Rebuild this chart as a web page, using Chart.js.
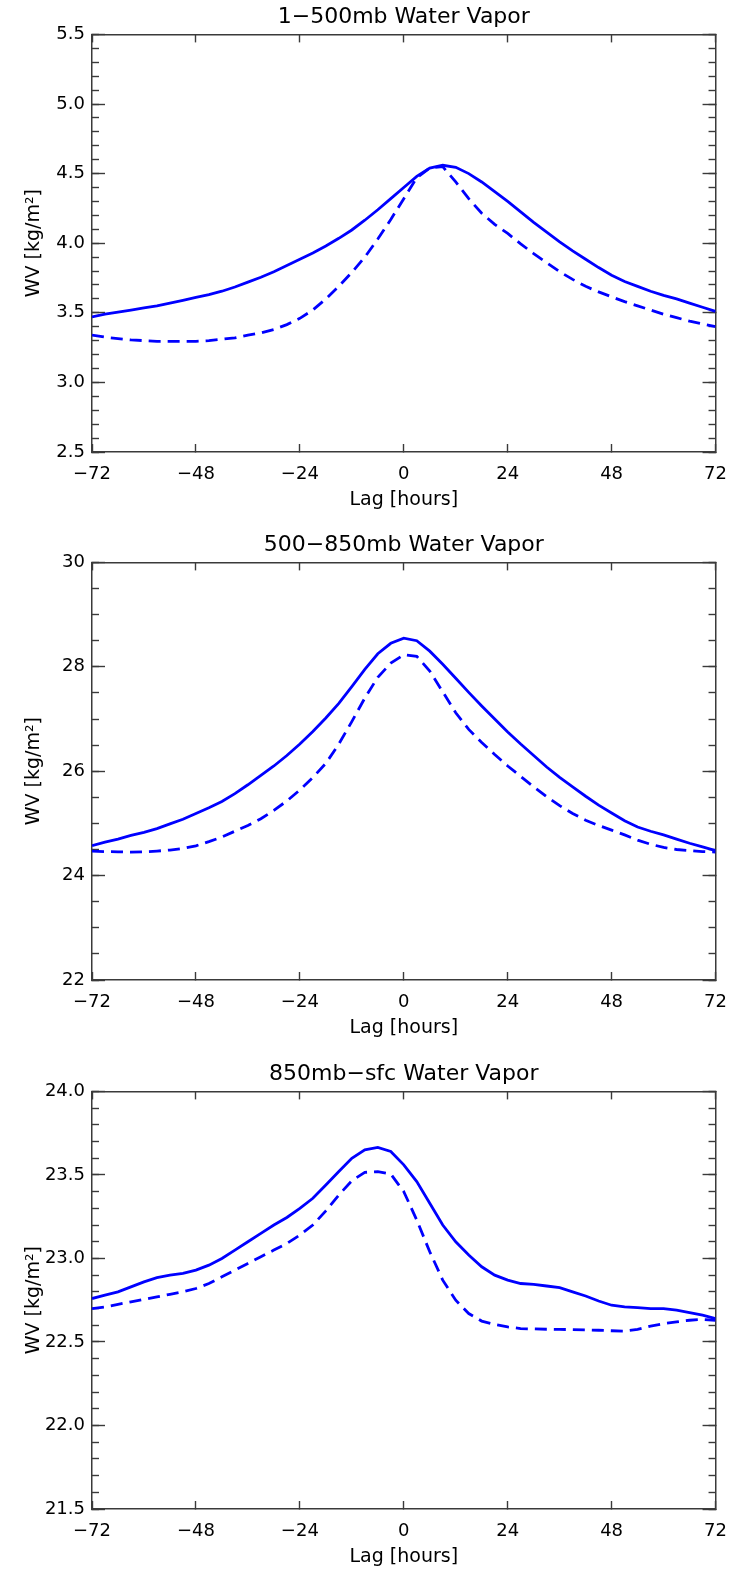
<!DOCTYPE html>
<html>
<head>
<meta charset="utf-8">
<title>Water Vapor</title>
<script src="https://cdn.jsdelivr.net/npm/chart.js@4/dist/chart.umd.min.js"></script>
<style>
  html, body { margin: 0; padding: 0; background: #fff; overflow: hidden; }
  .panel { position: absolute; left: 0; width: 747px; height: 528px; }
</style>
</head>
<body>
<div class="panel" style="top:0px"><canvas id="c1" width="747" height="528"></canvas></div>
<div class="panel" style="top:528px"><canvas id="c2" width="747" height="528"></canvas></div>
<div class="panel" style="top:1057px"><canvas id="c3" width="747" height="528"></canvas></div>
<script>
// Lag, hours (3-hourly)
const lagHours = [-72, -69, -66, -63, -60, -57, -54, -51, -48, -45, -42, -39, -36, -33, -30, -27, -24,
  -21, -18, -15, -12, -9, -6, -3, 0, 3, 6, 9, 12, 15, 18, 21, 24, 27, 30, 33, 36, 39, 42, 45, 48,
  51, 54, 57, 60, 63, 66, 69, 72];

// 1-500mb
const wvUpperSolid = [3.47, 3.49, 3.505, 3.52, 3.535, 3.55, 3.57, 3.59, 3.61, 3.63, 3.655, 3.685, 3.72,
  3.755, 3.795, 3.84, 3.885, 3.93, 3.98, 4.035, 4.095, 4.165, 4.24, 4.32, 4.40, 4.48, 4.54, 4.56,
  4.545, 4.50, 4.44, 4.37, 4.30, 4.225, 4.15, 4.08, 4.01, 3.945, 3.885, 3.825, 3.77, 3.725, 3.69,
  3.655, 3.625, 3.60, 3.57, 3.54, 3.51];
const wvUpperDashed = [3.34, 3.325, 3.315, 3.305, 3.30, 3.295, 3.295, 3.295, 3.295, 3.30, 3.31, 3.32,
  3.34, 3.355, 3.38, 3.415, 3.46, 3.52, 3.60, 3.69, 3.79, 3.90, 4.03, 4.17, 4.32, 4.47, 4.54, 4.55,
  4.44, 4.32, 4.215, 4.135, 4.07, 3.995, 3.925, 3.86, 3.795, 3.74, 3.69, 3.65, 3.615, 3.58, 3.55,
  3.52, 3.49, 3.465, 3.44, 3.42, 3.40];

// 500-850mb
const wvMidSolid = [24.575, 24.64, 24.70, 24.77, 24.83, 24.90, 24.99, 25.08, 25.19, 25.30, 25.42, 25.57,
  25.74, 25.92, 26.10, 26.30, 26.52, 26.76, 27.02, 27.30, 27.62, 27.95, 28.25, 28.45, 28.55, 28.50,
  28.30, 28.05, 27.78, 27.51, 27.25, 27.00, 26.75, 26.52, 26.30, 26.08, 25.88, 25.70, 25.52, 25.35,
  25.20, 25.05, 24.93, 24.85, 24.78, 24.70, 24.62, 24.55, 24.48];
const wvMidDashed = [24.47, 24.46, 24.455, 24.45, 24.455, 24.47, 24.49, 24.52, 24.57, 24.65, 24.74, 24.85,
  24.96, 25.09, 25.25, 25.43, 25.64, 25.88, 26.15, 26.52, 26.95, 27.40, 27.80, 28.07, 28.23, 28.20,
  27.92, 27.52, 27.12, 26.80, 26.55, 26.32, 26.10, 25.90, 25.70, 25.51, 25.34, 25.19, 25.06, 24.96,
  24.87, 24.78, 24.68, 24.60, 24.54, 24.50, 24.48, 24.46, 24.45];

// 850mb-sfc
const wvLowSolid = [22.76, 22.78, 22.80, 22.83, 22.86, 22.885, 22.90, 22.91, 22.93, 22.96, 23.00, 23.05,
  23.10, 23.15, 23.20, 23.245, 23.30, 23.36, 23.44, 23.52, 23.60, 23.65, 23.665, 23.64, 23.56, 23.46,
  23.33, 23.20, 23.10, 23.02, 22.95, 22.90, 22.87, 22.85, 22.845, 22.835, 22.825, 22.80, 22.775,
  22.745, 22.72, 22.71, 22.705, 22.70, 22.70, 22.69, 22.675, 22.66, 22.64];
const wvLowDashed = [22.70, 22.71, 22.725, 22.74, 22.755, 22.77, 22.785, 22.80, 22.82, 22.85, 22.89, 22.93,
  22.97, 23.01, 23.05, 23.09, 23.14, 23.20, 23.285, 23.38, 23.465, 23.515, 23.52, 23.505, 23.40, 23.23,
  23.04, 22.87, 22.75, 22.67, 22.625, 22.605, 22.59, 22.58, 22.578, 22.576, 22.575, 22.574, 22.572,
  22.57, 22.567, 22.565, 22.575, 22.595, 22.61, 22.62, 22.63, 22.635, 22.63];

// Панели: заголовок и оси
const panelTitles = ["1\u2212500mb Water Vapor", "500\u2212850mb Water Vapor", "850mb\u2212sfc Water Vapor"];
const yRanges = [[2.5, 5.5], [22, 30], [21.5, 24]];
const yMajorSteps = [0.5, 2, 0.5];
const yMinorSteps = [0.1, 0.5, 0.1];
const yDecimals = [1, 0, 1];

const LINE = "#0000ff";
const AXIS = "#3a3a3a";
const PLOT_LEFT = 92;
const PLOT_BOTTOM = 452;

Chart.defaults.font.family = "'DejaVu Sans', sans-serif";
Chart.defaults.color = "#000";

const minus = (s) => String(s).replace("-", "\u2212");

// ось с засечками внутрь
function tickAxis(position, min, max, step, len, extra) {
  return Object.assign({
    type: "linear",
    position: position,
    min: min,
    max: max,
    ticks: { display: false, stepSize: step, autoSkip: false },
    grid: {
      display: true,
      drawOnChartArea: false,
      drawTicks: true,
      tickLength: -len,
      tickColor: AXIS,
      tickWidth: 1.4,
    },
    border: { display: false },
  }, extra);
}

function makePanel(idx, canvasId, solid, dashed) {
  const [yMin, yMax] = yRanges[idx];
  const dec = yDecimals[idx];
  const ctx = document.getElementById(canvasId).getContext("2d");

  const x = tickAxis("bottom", -72, 72, 24, 8, {
    axis: "x",
    afterFit: (s) => { s.height = s.chart.height - PLOT_BOTTOM; },
  });
  x.ticks = {
    display: true, stepSize: 24, padding: 20, autoSkip: false, maxRotation: 0,
    font: { size: 18 }, callback: (v) => minus(v),
  };
  x.border = { display: true, color: AXIS, width: 1.5 };
  x.title = { display: true, text: "Lag [hours]", font: { size: 19 }, padding: { top: 0, bottom: 17 } };

  const xTop = tickAxis("top", -72, 72, 24, 8, {
    axis: "x",
    afterFit: (s) => { s.height = 0; },
  });
  xTop.border = { display: true, color: AXIS, width: 1.5 };

  const y = tickAxis("left", yMin, yMax, yMajorSteps[idx], 13, {
    axis: "y",
    weight: 1,
    afterFit: (s) => { s.width = PLOT_LEFT; },
  });
  y.ticks = {
    display: true, stepSize: yMajorSteps[idx], padding: 20, autoSkip: false,
    font: { size: 18 }, callback: (v) => minus(Number(v).toFixed(dec)),
  };
  y.border = { display: true, color: AXIS, width: 1.5 };
  y.title = { display: true, text: "WV [kg/m\u00b2]", font: { size: 19 }, padding: { top: 23, bottom: 0 } };

  const yMinor = tickAxis("left", yMin, yMax, yMinorSteps[idx], 7, {
    axis: "y", weight: 0, afterFit: (s) => { s.width = 0; },
  });

  const yRight = tickAxis("right", yMin, yMax, yMajorSteps[idx], 13, {
    axis: "y", weight: 0, afterFit: (s) => { s.width = 0; },
  });
  yRight.border = { display: true, color: AXIS, width: 1.5 };

  const yRightMinor = tickAxis("right", yMin, yMax, yMinorSteps[idx], 7, {
    axis: "y", weight: 1, afterFit: (s) => { s.width = 0; },
  });

  return new Chart(ctx, {
    type: "line",
    data: {
      datasets: [
        {
          data: lagHours.map((h, i) => ({ x: h, y: solid[i] })),
          borderColor: LINE,
          borderWidth: 2.8,
          pointRadius: 0,
          tension: 0,
          xAxisID: "x",
          yAxisID: "y",
        },
        {
          data: lagHours.map((h, i) => ({ x: h, y: dashed[i] })),
          borderColor: LINE,
          borderWidth: 2.8,
          borderDash: [12, 7],
          pointRadius: 0,
          tension: 0,
          xAxisID: "x",
          yAxisID: "y",
        },
      ],
    },
    options: {
      responsive: false,
      animation: false,
      layout: { padding: { left: 0, right: 14, top: 0, bottom: 0 } },
      plugins: {
        legend: { display: false },
        tooltip: { enabled: false },
        title: {
          display: true,
          text: panelTitles[idx],
          fullSize: false,
          font: { size: 22, weight: "normal" },
          color: "#000",
          padding: { top: 4, bottom: 4 },
        },
      },
      scales: { x, xTop, y, yMinor, yRight, yRightMinor },
    },
  });
}

makePanel(0, "c1", wvUpperSolid, wvUpperDashed);
makePanel(1, "c2", wvMidSolid, wvMidDashed);
makePanel(2, "c3", wvLowSolid, wvLowDashed);
</script>
</body>
</html>
